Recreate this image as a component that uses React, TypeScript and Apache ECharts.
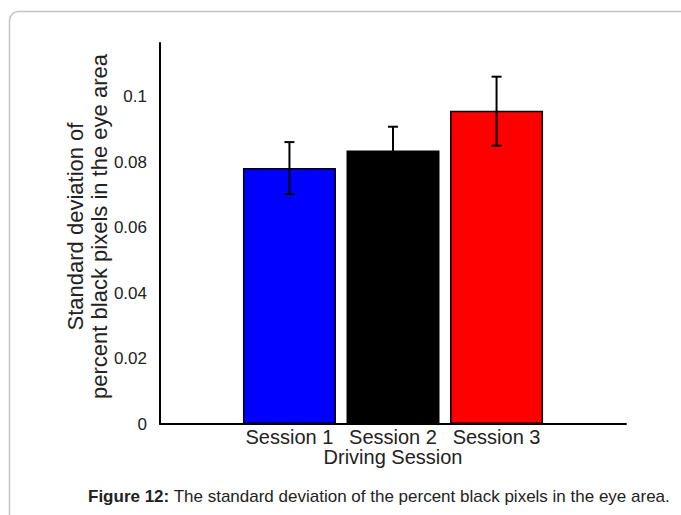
import React, { useEffect, useRef } from "react";
import * as echarts from "echarts";

const categories = ["Session 1", "Session 2", "Session 3"];
const means = [0.0783, 0.0836, 0.0958];
const upperVals = [0.0862, 0.0909, 0.1062];
const lowerVals = [0.0703, 0.0763, 0.0851];
const barColors = ["#0000ff", "#000000", "#ff0000"];
const yTicks = [0, 0.02, 0.04, 0.06, 0.08, 0.1];

const FONT = "Liberation Sans, Arial, Helvetica, sans-serif";

export default function App() {
  const ref = useRef<HTMLDivElement>(null);
  useEffect(() => {
    if (!ref.current) return;
    const chart = echarts.init(ref.current, undefined, { renderer: "svg" });
    chart.setOption({
      animation: false,
      backgroundColor: "#ffffff",
      grid: { left: 160, right: 55, top: 43, bottom: 91 },
      xAxis: {
        type: "value",
        min: -0.25,
        max: 4.25,
        splitLine: { show: false },
        axisTick: { show: false },
        axisLine: { onZero: false, lineStyle: { color: "#000", width: 2 } },
        axisLabel: {
          customValues: [1, 2, 3],
          formatter: (v: number) => categories[Math.round(v) - 1] ?? "",
          color: "#222",
          fontSize: 20,
          fontFamily: FONT,
          margin: 3,
        },
        name: "Driving Session",
        nameLocation: "middle",
        nameGap: 23,
        nameMoveOverlap: false,
        nameTextStyle: { color: "#222", fontSize: 20, fontFamily: FONT },
      },
      yAxis: {
        type: "value",
        min: 0,
        max: 0.1165,
        interval: 0.02,
        splitLine: { show: false },
        axisTick: { show: false },
        axisLine: { show: true, onZero: false, lineStyle: { color: "#000", width: 2 } },
        axisLabel: {
          showMaxLabel: false,
          color: "#222",
          fontSize: 17,
          fontFamily: FONT,
          margin: 13,
          formatter: (v: number) => {
            const t = yTicks.find((x) => Math.abs(x - v) < 1e-9);
            return t === undefined ? "" : String(t);
          },
        },
        name: "Standard deviation of\npercent black pixels in the eye area",
        nameLocation: "middle",
        nameGap: 49,
        nameMoveOverlap: false,
        nameTextStyle: {
          color: "#222",
          fontSize: 22,
          fontFamily: FONT,
          lineHeight: 24,
          padding: [0, 0, 0, 14],
        },
      },
      series: [
        {
          type: "bar",
          barWidth: 93,
          data: means.map((v, i) => ({
            value: [i + 1, v],
            itemStyle: { color: barColors[i], borderColor: "#000", borderWidth: 1.5 },
          })),
        },
        {
          type: "custom",
          encode: { x: 0, y: [1, 2] },
          data: means.map((_, i) => [i + 1, lowerVals[i], upperVals[i]]),
          z: 10,
          renderItem: (_params: any, api: any) => {
            const x = api.value(0);
            const lo = api.coord([x, api.value(1)]);
            const hi = api.coord([x, api.value(2)]);
            const hw = 5;
            const style = { stroke: "#000", lineWidth: 2 };
            return {
              type: "group",
              children: [
                { type: "line", shape: { x1: lo[0], y1: lo[1], x2: hi[0], y2: hi[1] }, style },
                { type: "line", shape: { x1: hi[0] - hw, y1: hi[1], x2: hi[0] + hw, y2: hi[1] }, style },
                { type: "line", shape: { x1: lo[0] - hw, y1: lo[1], x2: lo[0] + hw, y2: lo[1] }, style },
              ],
            };
          },
        },
      ],
      graphic: [
        {
          type: "rect",
          z: -10,
          shape: { x: 9.5, y: 11.5, width: 720, height: 540, r: 9 },
          style: { fill: "none", stroke: "#c4c4c4", lineWidth: 1.5 },
        },
        {
          type: "text",
          x: 88,
          y: 496,
          style: {
            text: "{b|Figure 12:} The standard deviation of the percent black pixels in the eye area.",
            fontSize: 17,
            fontFamily: FONT,
            fill: "#222",
            verticalAlign: "middle",
            rich: { b: { fontWeight: "bold", fontSize: 17, fontFamily: FONT, fill: "#222" } },
          },
        },
      ],
    });
    return () => chart.dispose();
  }, []);
  return (
    <div
      ref={ref}
      style={{ position: "absolute", left: 0, top: 0, width: 681, height: 515 }}
    />
  );
}
